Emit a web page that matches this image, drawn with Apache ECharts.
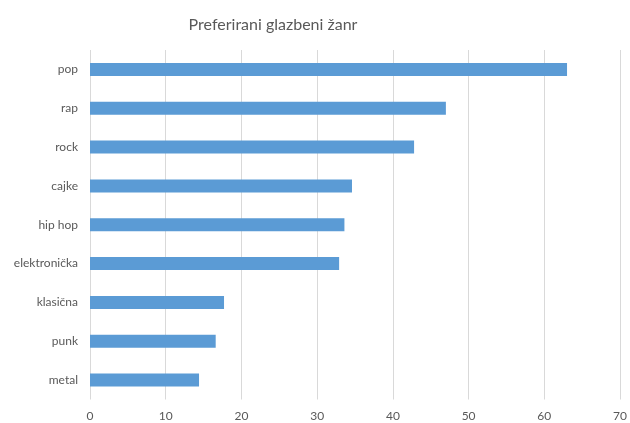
<!DOCTYPE html>
<html><head><meta charset="utf-8">
<script src="https://cdn.jsdelivr.net/npm/echarts@6/dist/echarts.min.js"></script>
<style>html,body{margin:0;padding:0;background:#fff}#c{width:630px;height:423px}</style>
</head><body><div id="c"></div>
<script>
const categories = ["pop","rap","rock","cajke","hip hop","elektronička","klasična","punk","metal"];
const values = [63, 47, 42.8, 34.6, 33.6, 32.9, 17.7, 16.6, 14.4];
const xTicks = [0,10,20,30,40,50,60,70];

const chart = echarts.init(document.getElementById('c'));
chart.setOption({
  animation: false,
  backgroundColor: '#fff',
  title: {
    text: 'Preferirani glazbeni žanr',
    left: 268, top: 12, textAlign: 'center',
    textStyle: {fontFamily: 'Lato', fontSize: 16, fontWeight: 'normal', color: '#595959'}
  },
  grid: {left: 90, right: 7.5, top: 50, bottom: 23.5, containLabel: false},
  xAxis: {
    type: 'value', min: xTicks[0], max: xTicks[xTicks.length-1], interval: 10,
    axisLine: {show: false}, axisTick: {show: false},
    splitLine: {lineStyle: {color: '#D9D9D9', width: 1}},
    axisLabel: {color: '#595959', fontFamily: 'Lato', fontSize: 12, margin: 11}
  },
  yAxis: {
    type: 'category', data: categories, inverse: true,
    axisLine: {show: false}, axisTick: {show: false},
    axisLabel: {color: '#595959', fontFamily: 'Lato', fontSize: 12, margin: 12}
  },
  series: [{
    type: 'bar', data: values, barWidth: 13,
    itemStyle: {color: '#5B9BD5'}
  }]
});
</script></body></html>
